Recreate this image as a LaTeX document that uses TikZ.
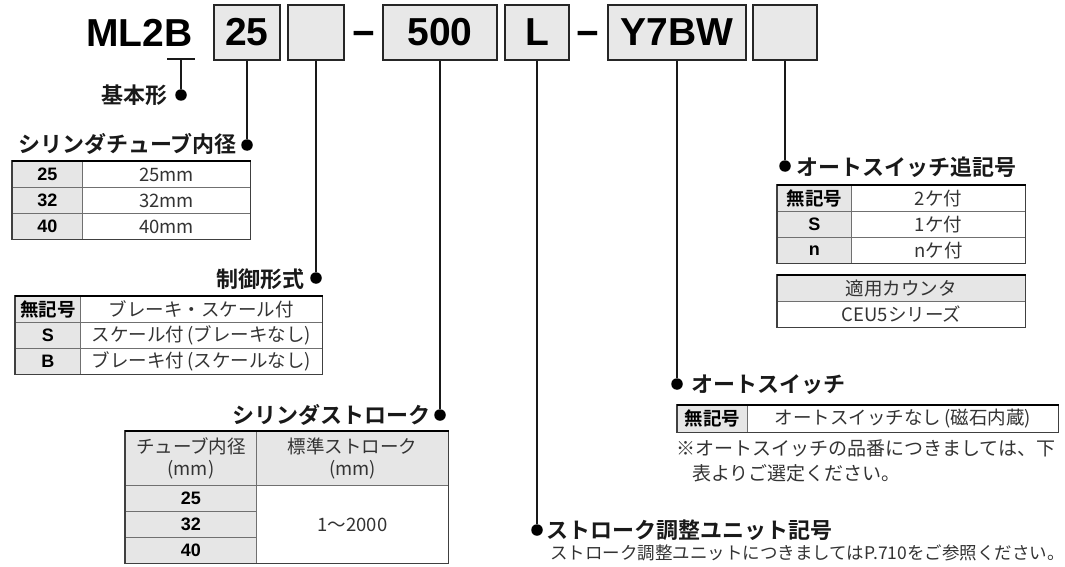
\documentclass[tikz,border=0pt]{standalone}
\usepackage{fontspec}
\setmainfont{Noto Sans CJK JP}[BoldFont={Noto Sans CJK JP Bold}]
\newfontfamily\arb{Liberation Sans}
\usetikzlibrary{calc}
\definecolor{boxgray}{HTML}{E8E8E8}
\definecolor{cellgray}{HTML}{E6E6E6}
\definecolor{linegray}{HTML}{707070}
\definecolor{txt}{HTML}{333333}
\tikzset{
 hbox/.style={draw=black!85, line width=1.6pt, fill=boxgray, minimum height=55pt, inner sep=0pt, font=\arb\bfseries\fontsize{39}{39}\selectfont},
 conn/.style={line width=1.5pt, black!90},
 dot/.style={circle, fill=black, inner sep=0pt, minimum size=11.5pt},
 lbl/.style={font=\bfseries\fontsize{22}{26}\selectfont, inner sep=0pt, text=black!90},
 cell/.style={draw=linegray, line width=0.9pt, minimum height=26pt, inner sep=0pt, anchor=north west, font=\fontsize{18.5}{22}\selectfont, text=txt},
 gcell/.style={cell, fill=cellgray},
 code/.style={font=\arb\bfseries\fontsize{18}{20}\selectfont, text=black},
 jcode/.style={font=\bfseries\fontsize{18.5}{22}\selectfont, text=black},
 topline/.style={line width=2pt, black},
 outline/.style={line width=1.1pt, black!75},
 note/.style={anchor=west, inner sep=0pt, text=txt},
}
\begin{document}
\begin{tikzpicture}[x=1pt,y=-1pt]
\useasboundingbox (0,0) rectangle (1065,567);

% header code
\node[anchor=base west, inner sep=0pt, font=\arb\bfseries\fontsize{39}{39}\selectfont] (m) at (86,47) {ML2B};
\node[hbox, minimum width=66pt] (b25) at (247,32.5) {25};
\node[hbox, minimum width=56pt] (bE1) at (316,32.5) {};
\node[anchor=base, inner sep=0pt, font=\arb\bfseries\fontsize{39}{39}\selectfont] (dash1) at (364,47) {−};
\node[hbox, minimum width=114pt] (b500) at (440,32.5) {500};
\node[hbox, minimum width=64pt] (bL) at (537,32.5) {L};
\node[anchor=base, inner sep=0pt, font=\arb\bfseries\fontsize{39}{39}\selectfont] (dash2) at (588,47) {−};
\node[hbox, minimum width=138pt] (bY) at (677,32.5) {Y7BW};
\node[hbox, minimum width=64pt] (bE2) at (785,32.5) {};

% dots
\node[dot] (d0) at (181,95) {};
\node[dot] (d1) at (247,145) {};
\node[dot] (d2) at (316,278) {};
\node[dot] (d3) at (440,415) {};
\node[dot] (d4) at (537,530) {};
\node[dot] (d5) at (677,384) {};
\node[dot] (d6) at (785,166) {};

% connectors
\coordinate (u1) at (167,59);
\coordinate (u2) at (195,59);
\draw[conn] (u1) -- (u2);
\draw[conn] ($(u1)!0.5!(u2)$) -- (d0);
\draw[conn] (b25.south) -- (d1);
\draw[conn] (bE1.south) -- (d2);
\draw[conn] (b500.south) -- (d3);
\draw[conn] (bL.south) -- (d4);
\draw[conn] (bY.south) -- (d5);
\draw[conn] (bE2.south) -- (d6);

% labels
\node[lbl, anchor=east] (l0) at (168,95) {基本形};
\node[lbl, anchor=east] (l1) at (237,144) {シリンダチューブ内径};
\node[lbl, anchor=east] (l2) at (305,279) {制御形式};
\node[lbl, anchor=east] (l3) at (431,415) {シリンダストローク};
\node[lbl, anchor=west] (l4) at (546,530) {ストローク調整ユニット記号};
\node[lbl, anchor=west] (l5) at (691,385) {オートスイッチ};
\node[lbl, anchor=west] (l6) at (796,167) {オートスイッチ追記号};

% table 1
\node[gcell, minimum width=70pt, code] (t1a1) at (12,161) {25};
\node[cell, minimum width=168pt] (t1b1) at (82,161) {25mm};
\node[gcell, minimum width=70pt, code] (t1a2) at (12,187) {32};
\node[cell, minimum width=168pt] (t1b2) at (82,187) {32mm};
\node[gcell, minimum width=70pt, code] (t1a3) at (12,213) {40};
\node[cell, minimum width=168pt] (t1b3) at (82,213) {40mm};
\draw[outline] (t1a1.north west) rectangle (t1b3.south east);
\draw[topline] (t1a1.north west) -- (t1b1.north east);

% table 2
\node[gcell, minimum width=65pt, jcode] (t2a1) at (15,296) {無記号};
\node[cell, minimum width=242pt] (t2b1) at (80,296) {ブレーキ・スケール付};
\node[gcell, minimum width=65pt, code] (t2a2) at (15,322) {S};
\node[cell, minimum width=242pt] (t2b2) at (80,322) {スケール付\,(ブレーキなし)};
\node[gcell, minimum width=65pt, code] (t2a3) at (15,348) {B};
\node[cell, minimum width=242pt] (t2b3) at (80,348) {ブレーキ付\,(スケールなし)};
\draw[outline] (t2a1.north west) rectangle (t2b3.south east);
\draw[topline] (t2a1.north west) -- (t2b1.north east);

% table 3
\node[gcell, minimum width=131pt, minimum height=54pt, align=center] (t3h1) at (125,431) {チューブ内径\\(mm)};
\node[gcell, minimum width=192pt, minimum height=54pt, align=center] (t3h2) at (256,431) {標準ストローク\\(mm)};
\node[gcell, minimum width=131pt, code] (t3a1) at (125,485) {25};
\node[gcell, minimum width=131pt, code] (t3a2) at (125,511) {32};
\node[gcell, minimum width=131pt, code] (t3a3) at (125,537) {40};
\node[cell, minimum width=192pt, minimum height=78pt] (t3v) at (256,485) {1～2000};
\draw[outline] (t3h1.north west) rectangle (t3v.south east);
\draw[topline] (t3h1.north west) -- (t3h2.north east);

% table 4
\node[gcell, minimum width=74pt, jcode] (t4a1) at (777,185) {無記号};
\node[cell, minimum width=174pt] (t4b1) at (851,185) {2ケ付};
\node[gcell, minimum width=74pt, code] (t4a2) at (777,211) {S};
\node[cell, minimum width=174pt] (t4b2) at (851,211) {1ケ付};
\node[gcell, minimum width=74pt, code] (t4a3) at (777,237) {n};
\node[cell, minimum width=174pt] (t4b3) at (851,237) {nケ付};
\draw[outline] (t4a1.north west) rectangle (t4b3.south east);
\draw[topline] (t4a1.north west) -- (t4b1.north east);

% table 5
\node[gcell, minimum width=248pt] (t5a) at (777,275) {適用カウンタ};
\node[cell, minimum width=248pt] (t5b) at (777,301) {CEU5シリーズ};
\draw[outline] (t5a.north west) rectangle (t5b.south east);
\draw[topline] (t5a.north west) -- (t5a.north east);

% table 6
\node[gcell, minimum width=70pt, minimum height=27pt, jcode] (t6a) at (677,405) {無記号};
\node[cell, minimum width=311pt, minimum height=27pt] (t6b) at (747,405) {オートスイッチなし\,(磁石内蔵)};
\draw[outline] (t6a.north west) rectangle (t6b.south east);
\draw[topline] (t6a.north west) -- (t6b.north east);

% notes
\node[note, font=\fontsize{19}{22}\selectfont] (n1) at (676,448) {※オートスイッチの品番につきましては、下};
\node[note, font=\fontsize{19}{22}\selectfont] (n2) at (692,473) {表よりご選定ください。};
\node[note, font=\fontsize{17.5}{20}\selectfont] (n3) at (550,553) {ストローク調整ユニットにつきましてはP.710をご参照ください。};
\end{tikzpicture}
\end{document}
